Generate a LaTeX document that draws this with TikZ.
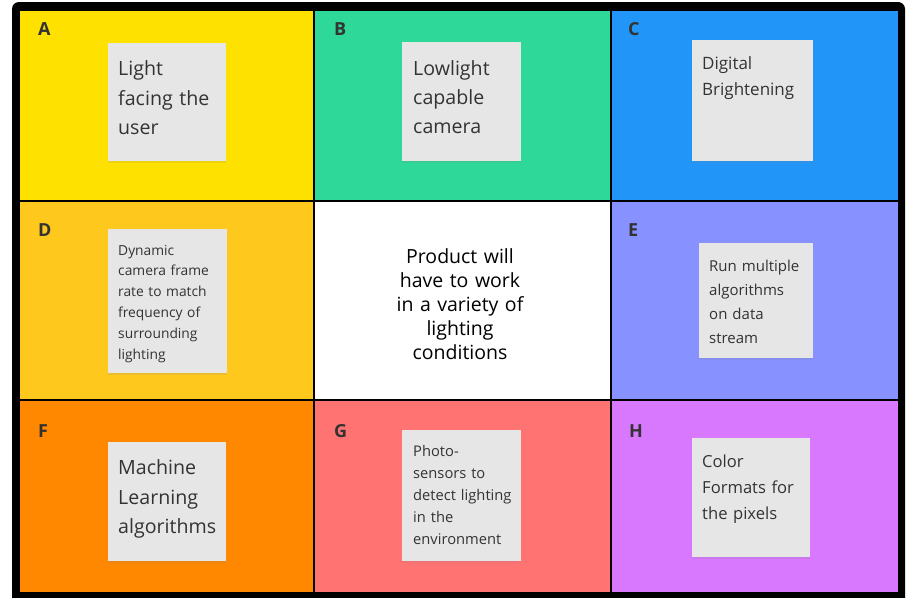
\documentclass[tikz,border=0pt]{standalone}
\usepackage{fontspec}
\setmainfont{Open Sans}
\usepackage{tikz}
\usetikzlibrary{shadows}

\definecolor{cellA}{HTML}{FFE100}
\definecolor{cellB}{HTML}{2ED898}
\definecolor{cellC}{HTML}{2196F8}
\definecolor{cellD}{HTML}{FFC81C}
\definecolor{cellE}{HTML}{8791FF}
\definecolor{cellF}{HTML}{FF8800}
\definecolor{cellG}{HTML}{FF7373}
\definecolor{cellH}{HTML}{D878FF}
\definecolor{paper}{HTML}{E6E6E6}
\definecolor{ink}{HTML}{333333}

\begin{document}
\begin{tikzpicture}[x=1pt, y=-1pt]
	\tikzstyle{cell} = [draw=black, line width=1.5pt, anchor=north west,
	inner sep=0pt]
	\tikzstyle{note} = [fill=paper, anchor=north west, inner sep=0pt,
	drop shadow={shadow xshift=0pt, shadow yshift=-1.5pt, opacity=0.15}]
	\tikzstyle{tag} = [anchor=base west, inner sep=0pt, text=ink,
	font=\bfseries\fontsize{18}{18}\selectfont]
	\tikzstyle{jot} = [anchor=base west, inner sep=0pt, text=ink,
	text width=150pt, align=left]

	\useasboundingbox (0,0) rectangle (909,597);
	% heavy outer frame
	\fill[black, rounded corners=7pt] (12,2) rectangle (905,606);

	% the 3x3 board
	\begin{scope}
		\path
			node[cell, fill=cellA, minimum width=295pt, minimum height=191pt] (A) at (18,9) {}
			node[cell, fill=cellB, minimum width=297pt, minimum height=191pt] (B) at (313,9) {}
			node[cell, fill=cellC, minimum width=288pt, minimum height=191pt] (C) at (610,9) {}
			node[cell, fill=cellD, minimum width=295pt, minimum height=199pt] (D) at (18,200) {}
			node[cell, fill=white, minimum width=297pt, minimum height=199pt] (M) at (313,200) {}
			node[cell, fill=cellE, minimum width=288pt, minimum height=199pt] (E) at (610,200) {}
			node[cell, fill=cellF, minimum width=295pt, minimum height=193pt] (F) at (18,399) {}
			node[cell, fill=cellG, minimum width=297pt, minimum height=193pt] (G) at (313,399) {}
			node[cell, fill=cellH, minimum width=288pt, minimum height=193pt] (H) at (610,399) {}
		;
	\end{scope}

	% letters
	\path
		node[tag] (lA) at (38,35) {A}
		node[tag] (lB) at (334,35) {B}
		node[tag] (lC) at (628,35) {C}
		node[tag] (lD) at (38,236.7) {D}
		node[tag] (lE) at (628,236.7) {E}
		node[tag] (lF) at (38,437.3) {F}
		node[tag] (lG) at (334,437.3) {G}
		node[tag] (lH) at (629,437.3) {H}
	;

	% sticky notes
	\begin{scope}
		\path
			node[note, minimum width=118pt, minimum height=118pt] (nA) at (108,43) {}
			node[note, minimum width=119pt, minimum height=119pt] (nB) at (402,42) {}
			node[note, minimum width=121pt, minimum height=121pt] (nC) at (692,40) {}
			node[note, minimum width=119pt, minimum height=144pt] (nD) at (108,229) {}
			node[note, minimum width=114pt, minimum height=115pt] (nE) at (699,243) {}
			node[note, minimum width=118pt, minimum height=119pt] (nF) at (108,442) {}
			node[note, minimum width=119pt, minimum height=131pt] (nG) at (402,430) {}
			node[note, minimum width=118pt, minimum height=119pt] (nH) at (692,438) {}
		;
		\path
			node[jot, font=\fontsize{19.6}{29.6}\selectfont] (tA)
				at ([shift={(10,32.7)}]nA.north west) {Light\\facing the\\user}
			node[jot, font=\fontsize{19.6}{29.3}\selectfont] (tB)
				at ([shift={(11,33)}]nB.north west) {Lowlight\\capable\\camera}
			node[jot, font=\fontsize{17}{26}\selectfont] (tC)
				at ([shift={(10,29)}]nC.north west) {Digital\\Brightening}
			node[jot, font=\fontsize{13.8}{20.8}\selectfont] (tD)
				at ([shift={(10,26)}]nD.north west)
				{Dynamic\\camera frame\\rate to match\\frequency of\\surrounding\\lighting}
			node[jot, font=\fontsize{15}{24}\selectfont] (tE)
				at ([shift={(10,28.7)}]nE.north west)
				{Run multiple\\algorithms\\on data\\stream}
			node[jot, font=\fontsize{19.6}{29.7}\selectfont] (tF)
				at ([shift={(10,32.3)}]nF.north west) {Machine\\Learning\\algorithms}
			node[jot, font=\fontsize{14.7}{22}\selectfont] (tG)
				at ([shift={(11,26.7)}]nG.north west)
				{Photo-\\sensors to\\detect lighting\\in the\\environment}
			node[jot, font=\fontsize{16.6}{26}\selectfont] (tH)
				at ([shift={(10,29.3)}]nH.north west) {Color\\Formats for\\the pixels}
		;
	\end{scope}

	% the centre statement
	\node[anchor=base, inner sep=0pt, text width=200pt, align=center,
		font=\fontsize{19.5}{24}\selectfont] (goal) at (460,263.3)
		{Product will\\have to work\\in a variety of\\lighting\\conditions};
\end{tikzpicture}
\end{document}
